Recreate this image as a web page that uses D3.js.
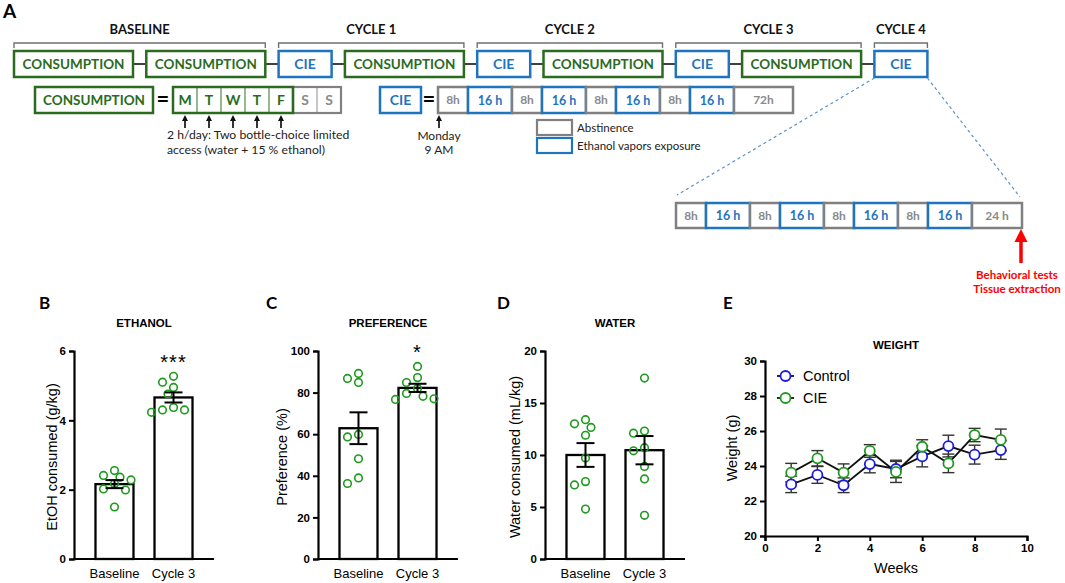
<!DOCTYPE html>
<html>
<head>
<meta charset="utf-8">
<script src="https://cdn.jsdelivr.net/npm/d3@7"></script>
<style>
  body { margin: 0; background: #fff; }
  svg { display: block; }
</style>
</head>
<body>
<div id="chart"></div>
<script>
// ---------- schematic (panel A) ----------
const timelineSteps = ["CONSUMPTION", "CONSUMPTION", "CIE", "CONSUMPTION", "CIE", "CONSUMPTION", "CIE", "CONSUMPTION", "CIE"];
const phaseNames = ["BASELINE", "CYCLE 1", "CYCLE 2", "CYCLE 3", "CYCLE 4"];
const phaseSteps = [[0, 1], [2, 3], [4, 5], [6, 7], [8, 8]];
const weekDays = ["M", "T", "W", "T", "F", "S", "S"];
const drinkingDays = 5;
const cieBlocks = ["8h", "16 h", "8h", "16 h", "8h", "16 h", "8h", "16 h", "72h"];
const lastCieBlocks = ["8h", "16 h", "8h", "16 h", "8h", "16 h", "8h", "16 h", "24 h"];
const accessNote = ["2 h/day: Two bottle-choice limited", "access (water + 15 % ethanol)"];
const startNote = ["Monday", "9 AM"];
const legendNames = ["Abstinence", "Ethanol vapors exposure"];
const endNote = ["Behavioral tests", "Tissue extraction"];

// ---------- bar panels (B, C, D) ----------
const groups = ["Baseline", "Cycle 3"];
const ethanolBaseline = [2.55, 2.41, 2.36, 2.28, 2.17, 1.99, 2.02, 1.50];
const ethanolCycle3 = [5.27, 5.10, 4.95, 4.76, 4.37, 4.30, 4.23, 4.30];
const preferenceBaseline = [86.8, 89.2, 84.9, 59.9, 58.7, 48.2, 36.3, 39.0];
const preferenceCycle3 = [92.6, 84.8, 87.2, 82.0, 79.6, 76.7, 77.0, 78.2];
const waterBaseline = [13.0, 13.4, 12.65, 11.9, 9.7, 7.44, 7.12, 4.8];
const waterCycle3 = [17.4, 12.3, 12.1, 10.7, 10.4, 8.9, 7.7, 4.2];

// ---------- weight (panel E) ----------
const weeks = [1, 2, 3, 4, 5, 6, 7, 8, 9];
const controlWeight = [22.95, 23.49, 22.90, 24.11, 23.83, 24.55, 25.14, 24.65, 24.91];
const controlSem = [0.47, 0.48, 0.42, 0.50, 0.50, 0.60, 0.62, 0.54, 0.53];
const cieWeight = [23.62, 24.44, 23.62, 24.86, 23.66, 25.10, 24.15, 25.77, 25.49];
const cieSem = [0.53, 0.44, 0.50, 0.36, 0.60, 0.40, 0.53, 0.38, 0.62];

const W = 1065, H = 583;
const GREEN_BOX = "#2a6b1f", BLUE_BOX = "#1f74c0", GREY_BOX = "#808080";
const DOT_GREEN = "#1f9a1f", DOT_BLUE = "#1a1ae0";
const calibri = "Lato, 'Open Sans', sans-serif";
const arial = "'Liberation Sans', Arial, sans-serif";

const svg = d3.select("#chart").append("svg")
  .attr("width", W).attr("height", H)
  .style("background", "#fff");

// panel letters
const letters = [["A", 3, 18], ["B", 39, 309], ["C", 266, 309], ["D", 497, 309], ["E", 723, 309]];
svg.selectAll("text.letter").data(letters).enter().append("text")
  .attr("class", "letter")
  .attr("x", d => d[1]).attr("y", d => d[2])
  .attr("font-family", calibri).attr("font-weight", 700)
  .attr("font-size", d => d[0] === "A" ? 19 : 17)
  .text(d => d[0]);

// ---------------- panel A ----------------
const A = svg.append("g");
const stepWidth = s => s === "CIE" ? 53 : 119;
const stepColor = s => s === "CIE" ? BLUE_BOX : GREEN_BOX;

// top timeline boxes
let cx = 14;
const gap = 13.3;
const topY = 51, boxH = 26;
const steps = timelineSteps.map(s => {
  const o = { label: s, x: cx, w: stepWidth(s) };
  cx += o.w + gap;
  return o;
});

// connectors
A.selectAll("line.conn").data(steps.slice(1)).enter().append("line")
  .attr("x1", (d, i) => steps[i].x + steps[i].w).attr("x2", d => d.x)
  .attr("y1", topY + boxH / 2).attr("y2", topY + boxH / 2)
  .attr("stroke", "#404040").attr("stroke-width", 2);

function box(g, x, y, w, h, color, label, textColor, fs) {
  g.append("rect").attr("x", x).attr("y", y).attr("width", w).attr("height", h)
    .attr("fill", "#fff").attr("stroke", color).attr("stroke-width", 2.5);
  if (label) {
    g.append("text").attr("x", x + w / 2).attr("y", y + h / 2 + fs * 0.36)
      .attr("text-anchor", "middle").attr("font-family", calibri).attr("font-weight", 700)
      .attr("font-size", fs).attr("fill", textColor || color).text(label);
  }
}

steps.forEach(s => box(A, s.x, topY, s.w, boxH, stepColor(s.label), s.label,
  s.label === "CIE" ? BLUE_BOX : GREEN_BOX, s.label === "CIE" ? 14 : 13.5));

// brackets + phase names
phaseSteps.forEach((p, i) => {
  const x1 = steps[p[0]].x, x2 = steps[p[1]].x + steps[p[1]].w;
  A.append("path")
    .attr("d", `M${x1},48 V43 H${x2} V48`)
    .attr("fill", "none").attr("stroke", "#707070").attr("stroke-width", 1.4);
  A.append("text").attr("x", (x1 + x2) / 2).attr("y", 34)
    .attr("text-anchor", "middle").attr("font-family", calibri).attr("font-weight", 700)
    .attr("font-size", 13).attr("fill", "#111").text(phaseNames[i]);
});

// row 2 : CONSUMPTION = days
const row2Y = 87;
box(A, 35, row2Y, 118, boxH, GREEN_BOX, "CONSUMPTION", GREEN_BOX, 13.5);
A.append("text").attr("x", 163).attr("y", row2Y + 20).attr("text-anchor", "middle")
  .attr("font-family", calibri).attr("font-weight", 700).attr("font-size", 22).text("=");

const dayX = d3.scaleBand().domain(d3.range(weekDays.length)).range([173, 341]);
A.selectAll("text.day").data(weekDays).enter().append("text")
  .attr("x", (d, i) => dayX(i) + dayX.bandwidth() / 2).attr("y", row2Y + 18)
  .attr("text-anchor", "middle").attr("font-family", calibri).attr("font-weight", 700)
  .attr("font-size", 14)
  .attr("fill", (d, i) => i < drinkingDays ? GREEN_BOX : "#8a8a8a").text(d => d);
A.selectAll("line.daydiv").data(d3.range(1, weekDays.length)).enter().append("line")
  .attr("x1", i => dayX(i)).attr("x2", i => dayX(i))
  .attr("y1", row2Y).attr("y2", row2Y + boxH)
  .attr("stroke", i => i < drinkingDays ? "#4f8a45" : "#a0a0a0").attr("stroke-width", 1.2);
A.append("rect").attr("x", dayX(drinkingDays)).attr("y", row2Y)
  .attr("width", dayX(6) + dayX.bandwidth() - dayX(drinkingDays)).attr("height", boxH)
  .attr("fill", "none").attr("stroke", GREY_BOX).attr("stroke-width", 2.2);
A.append("rect").attr("x", dayX(0)).attr("y", row2Y)
  .attr("width", dayX(drinkingDays) - dayX(0)).attr("height", boxH)
  .attr("fill", "none").attr("stroke", GREEN_BOX).attr("stroke-width", 2.5);

function upArrow(g, x, y0, y1, color, sw, head) {
  g.append("line").attr("x1", x).attr("x2", x).attr("y1", y0).attr("y2", y1 + head)
    .attr("stroke", color).attr("stroke-width", sw);
  g.append("path").attr("d", `M${x - head * 0.5},${y1 + head} L${x},${y1} L${x + head * 0.5},${y1 + head} Z`)
    .attr("fill", color);
}
d3.range(drinkingDays).forEach(i => upArrow(A, dayX(i) + dayX.bandwidth() / 2, 128, 115, "#111", 1.7, 6));

A.selectAll("text.note").data(accessNote).enter().append("text")
  .attr("x", 167).attr("y", (d, i) => 139 + i * 15)
  .attr("font-family", calibri).attr("font-size", 12.2).attr("fill", "#222").text(d => d);

// row 2 : CIE = blocks
box(A, 380, row2Y, 41, boxH, BLUE_BOX, "CIE", BLUE_BOX, 14);
A.append("text").attr("x", 429).attr("y", row2Y + 20).attr("text-anchor", "middle")
  .attr("font-family", calibri).attr("font-weight", 700).attr("font-size", 22).text("=");

const blockWidth = b => b === "8h" ? 30 : b === "16 h" ? 44 : b === "72h" ? 59 : 50;
function blockRow(list, x0, y, h) {
  let x = x0;
  const out = [];
  list.forEach(b => {
    const vapor = b === "16 h";
    box(A, x, y, blockWidth(b), h, vapor ? BLUE_BOX : GREY_BOX, b, vapor ? BLUE_BOX : "#8a8a8a", vapor ? 12.5 : 12);
    out.push({ x, w: blockWidth(b) });
    x += blockWidth(b);
  });
  return out;
}
blockRow(cieBlocks, 438, row2Y, boxH);
upArrow(A, 439, 128, 115, "#111", 1.7, 6);
A.selectAll("text.start").data(startNote).enter().append("text")
  .attr("x", 439).attr("y", (d, i) => 140 + i * 14).attr("text-anchor", "middle")
  .attr("font-family", calibri).attr("font-size", 12).attr("fill", "#222").text(d => d);

// legend of block types
legendNames.forEach((n, i) => {
  A.append("rect").attr("x", 537).attr("y", 120 + i * 18).attr("width", 35).attr("height", 15)
    .attr("fill", "#fff").attr("stroke", i === 0 ? GREY_BOX : BLUE_BOX).attr("stroke-width", 2.2);
  A.append("text").attr("x", 577).attr("y", 132 + i * 18)
    .attr("font-family", calibri).attr("font-size", 11.5).attr("fill", "#222").text(n);
});

// zoomed last CIE
const zoomRow = blockRow(lastCieBlocks, 676, 203, 25);
const zEnd = zoomRow[zoomRow.length - 1].x + zoomRow[zoomRow.length - 1].w;
const last = steps[steps.length - 1];
A.append("line").attr("x1", last.x).attr("y1", topY + boxH + 1).attr("x2", 677).attr("y2", 195)
  .attr("stroke", "#5b93c9").attr("stroke-width", 1.2).attr("stroke-dasharray", "3,3");
A.append("line").attr("x1", last.x + last.w).attr("y1", topY + boxH + 1).attr("x2", zEnd - 2).attr("y2", 197)
  .attr("stroke", "#5b93c9").attr("stroke-width", 1.2).attr("stroke-dasharray", "3,3");

upArrow(A, zEnd - 1, 263, 229, "#ff0000", 3.5, 13);
A.selectAll("text.end").data(endNote).enter().append("text")
  .attr("x", 1017).attr("y", (d, i) => 279 + i * 14).attr("text-anchor", "middle")
  .attr("font-family", calibri).attr("font-weight", 700).attr("font-size", 11.5)
  .attr("fill", "#ff0000").text(d => d);

// ---------------- bar panels ----------------
function swarm(values, y, step, minDist) {
  const order = values.map((v, i) => i).sort((a, b) => values[b] - values[a]);
  const cands = [0, -0.5, 0.5, -1, 1, -1.5, 1.5, -2, 2, -2.5, 2.5].map(k => k * step);
  const placed = [];
  const off = new Array(values.length);
  order.forEach(i => {
    const py = y(values[i]);
    for (const c of cands) {
      if (placed.every(p => Math.hypot(p.x - c, p.y - py) >= minDist)) {
        off[i] = c; placed.push({ x: c, y: py }); break;
      }
    }
  });
  return off;
}

function barPanel(cfg) {
  const g = svg.append("g");
  const x = d3.scaleBand().domain(groups).range([cfg.ax, cfg.ax + 140])
    .paddingInner(0.356).paddingOuter(0.364);
  const y = d3.scaleLinear().domain([0, cfg.max]).range([559, 351]);
  const sets = [cfg.a, cfg.b];

  g.append("text").attr("x", cfg.ax + 70).attr("y", 327).attr("text-anchor", "middle")
    .attr("font-family", arial).attr("font-weight", 700).attr("font-size", 11.5).text(cfg.title);

  // bars
  g.selectAll("rect.bar").data(sets).enter().append("rect")
    .attr("x", (d, i) => x(groups[i])).attr("width", x.bandwidth())
    .attr("y", d => y(d3.mean(d))).attr("height", d => y(0) - y(d3.mean(d)))
    .attr("fill", "#fff").attr("stroke", "#000").attr("stroke-width", 2.3);

  // dots
  sets.forEach((vals, i) => {
    const off = swarm(vals, y, 11, 8.5);
    const c = x(groups[i]) + x.bandwidth() / 2;
    g.selectAll(null).data(vals).enter().append("circle")
      .attr("cx", (d, k) => c + off[k]).attr("cy", d => y(d)).attr("r", 3.8)
      .attr("fill", "none").attr("stroke", DOT_GREEN).attr("stroke-width", 1.6);
  });

  // sem
  sets.forEach((vals, i) => {
    const m = d3.mean(vals), s = d3.deviation(vals) / Math.sqrt(vals.length);
    const c = x(groups[i]) + x.bandwidth() / 2;
    g.append("line").attr("x1", c).attr("x2", c).attr("y1", y(m - s)).attr("y2", y(m + s))
      .attr("stroke", "#000").attr("stroke-width", 2);
    [m - s, m + s].forEach(v => g.append("line").attr("x1", c - 9).attr("x2", c + 9)
      .attr("y1", y(v)).attr("y2", y(v)).attr("stroke", "#000").attr("stroke-width", 2));
  });

  // significance
  if (cfg.star) {
    const c = x(groups[1]) + x.bandwidth() / 2;
    g.append("text").attr("x", c).attr("y", y(d3.max(cfg.b)) - 7).attr("text-anchor", "middle")
      .attr("font-family", arial).attr("font-size", 20).attr("letter-spacing", 1).text(cfg.star);
  }

  // axes
  const ya = g.append("g").attr("transform", `translate(${cfg.ax},0)`)
    .call(d3.axisLeft(y).ticks(cfg.max / cfg.tick).tickSizeOuter(0).tickSize(5).tickPadding(3));
  ya.select(".domain").attr("stroke-width", 2.2);
  ya.selectAll(".tick line").attr("stroke-width", 2);
  ya.selectAll("text").attr("font-family", arial).attr("font-weight", 700).attr("font-size", 11.5);
  g.append("line").attr("x1", cfg.ax - 1).attr("x2", cfg.ax + 140).attr("y1", 559).attr("y2", 559)
    .attr("stroke", "#000").attr("stroke-width", 2.2);
  g.selectAll("text.cat").data(groups).enter().append("text")
    .attr("x", d => x(d) + x.bandwidth() / 2).attr("y", 578).attr("text-anchor", "middle")
    .attr("font-family", arial).attr("font-size", 13).text(d => d);

  g.append("text")
    .attr("transform", `translate(${cfg.labelX},457) rotate(-90)`)
    .attr("text-anchor", "middle").attr("dy", "0.35em")
    .attr("font-family", arial).attr("font-size", 14.5).text(cfg.ylabel);
}

barPanel({ ax: 74, max: 6, tick: 2, a: ethanolBaseline, b: ethanolCycle3, title: "ETHANOL",
  ylabel: "EtOH consumed (g/kg)", labelX: 52, star: "***" });
barPanel({ ax: 318, max: 100, tick: 20, a: preferenceBaseline, b: preferenceCycle3, title: "PREFERENCE",
  ylabel: "Preference (%)", labelX: 282, star: "*" });
barPanel({ ax: 545, max: 20, tick: 5, a: waterBaseline, b: waterCycle3, title: "WATER",
  ylabel: "Water consumed (mL/kg)", labelX: 515 });

// ---------------- panel E ----------------
const E = svg.append("g");
const xe = d3.scaleLinear().domain([0, 10]).range([765, 1027]);
const ye = d3.scaleLinear().domain([20, 30]).range([536, 361]);

E.append("text").attr("x", 896).attr("y", 349).attr("text-anchor", "middle")
  .attr("font-family", arial).attr("font-weight", 700).attr("font-size", 11.5).text("WEIGHT");

const ax1 = E.append("g").attr("transform", "translate(0,536)")
  .call(d3.axisBottom(xe).ticks(5).tickSizeOuter(0).tickSize(5).tickPadding(3));
const ax2 = E.append("g").attr("transform", "translate(765,0)")
  .call(d3.axisLeft(ye).ticks(5).tickSizeOuter(0).tickSize(5).tickPadding(3));
[ax1, ax2].forEach(a => {
  a.select(".domain").attr("stroke-width", 2.2);
  a.selectAll(".tick line").attr("stroke-width", 2);
  a.selectAll("text").attr("font-family", arial).attr("font-weight", 700).attr("font-size", 11.5);
});
E.append("text").attr("x", 896).attr("y", 573).attr("text-anchor", "middle")
  .attr("font-family", arial).attr("font-size", 14.5).text("Weeks");
E.append("text").attr("transform", "translate(732,448) rotate(-90)")
  .attr("text-anchor", "middle").attr("dy", "0.35em")
  .attr("font-family", arial).attr("font-size", 14.5).text("Weight (g)");

const series = [
  { name: "Control", vals: controlWeight, sem: controlSem, color: DOT_BLUE },
  { name: "CIE", vals: cieWeight, sem: cieSem, color: DOT_GREEN }
];
const line = d3.line().x((d, i) => xe(weeks[i])).y(d => ye(d));

series.forEach(s => {
  s.vals.forEach((v, i) => {
    const cxp = xe(weeks[i]);
    E.append("line").attr("x1", cxp).attr("x2", cxp).attr("y1", ye(v - s.sem[i])).attr("y2", ye(v + s.sem[i]))
      .attr("stroke", "#333").attr("stroke-width", 1.4);
    [v - s.sem[i], v + s.sem[i]].forEach(e => E.append("line")
      .attr("x1", cxp - 6).attr("x2", cxp + 6).attr("y1", ye(e)).attr("y2", ye(e))
      .attr("stroke", "#333").attr("stroke-width", 1.4));
  });
});
series.forEach(s => {
  E.append("path").attr("d", line(s.vals)).attr("fill", "none")
    .attr("stroke", "#111").attr("stroke-width", 1.8);
});
series.forEach(s => {
  E.selectAll(null).data(s.vals).enter().append("circle")
    .attr("cx", (d, i) => xe(weeks[i])).attr("cy", d => ye(d)).attr("r", 5)
    .attr("fill", "#fff").attr("stroke", s.color).attr("stroke-width", 1.8);
});

// legend
series.forEach((s, i) => {
  const ly = 376 + i * 22;
  E.append("line").attr("x1", 777).attr("x2", 794).attr("y1", ly).attr("y2", ly)
    .attr("stroke", "#111").attr("stroke-width", 1.8);
  E.append("circle").attr("cx", 785.5).attr("cy", ly).attr("r", 5)
    .attr("fill", "#fff").attr("stroke", s.color).attr("stroke-width", 1.8);
  E.append("text").attr("x", 803).attr("y", ly).attr("dy", "0.35em")
    .attr("font-family", arial).attr("font-size", 14.5).text(s.name);
});
</script>
</body>
</html>
